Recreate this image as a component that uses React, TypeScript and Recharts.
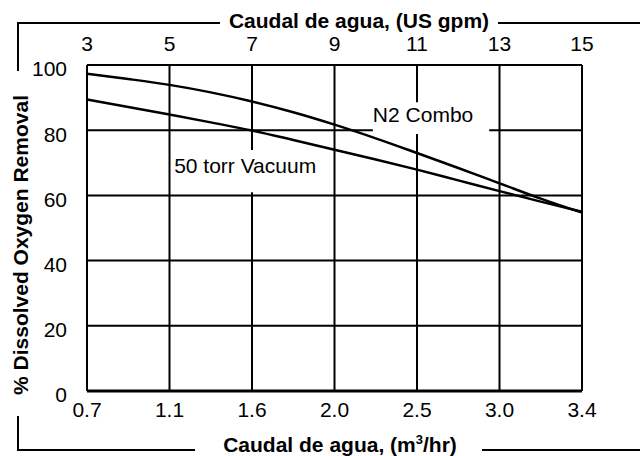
import { LineChart, Line, XAxis, YAxis, CartesianGrid, ReferenceArea } from 'recharts'

// flow in US gpm (top axis) and the matching m3/hr labels (bottom axis)
const gpm = [3, 4, 5, 6, 7, 8, 9, 10, 11, 12, 13, 14, 15]
const gpmTicks = [3, 5, 7, 9, 11, 13, 15]
const m3Labels = ['0.7', '1.1', '1.6', '2.0', '2.5', '3.0', '3.4']
const yTicks = [0, 20, 40, 60, 80, 100]

// % dissolved oxygen removal
const n2Combo = [97.3, 95.7, 93.9, 91.6, 88.8, 85.5, 81.7, 77.5, 73.0, 68.4, 63.7, 59.0, 54.7]
const vacuum50 = [89.4, 87.1, 84.8, 82.4, 79.9, 77.0, 74.0, 71.0, 67.9, 64.6, 61.3, 58.1, 55.0]

const data = gpm.map((g, i) => ({ gpm: g, n2: n2Combo[i], vac: vacuum50[i] }))

const FONT = '"Liberation Sans", Arial, sans-serif'

function boxLabel(text: string, dx: number, dy: number) {
  return (props: any) => {
    const vb = props.viewBox || {}
    return (
      <text x={vb.x + dx} y={vb.y + dy} fontSize={21} fill="#000" fontFamily={FONT}>
        {text}
      </text>
    )
  }
}

export default function App() {
  return (
    <div style={{ position: 'absolute', left: 0, top: 0, width: 640, height: 456, background: '#fff', fontFamily: FONT }}>
      <LineChart
        width={640}
        height={456}
        data={data}
        margin={{ top: 40, right: 58, bottom: 40, left: 20 }}
      >
        <CartesianGrid xAxisId="top" stroke="#000" strokeWidth={2} />
        <XAxis
          xAxisId="top"
          orientation="top"
          type="number"
          dataKey="gpm"
          domain={[3, 15]}
          ticks={gpmTicks}
          height={25}
          tickLine={false}
          tickSize={0}
          tickMargin={14}
          axisLine={{ stroke: '#000', strokeWidth: 2 }}
          tick={{ fill: '#000', fontSize: 21, fontFamily: FONT }}
        />
        <XAxis
          xAxisId="bottom"
          orientation="bottom"
          type="number"
          dataKey="gpm"
          domain={[3, 15]}
          ticks={gpmTicks}
          height={25}
          tickLine={false}
          tickSize={0}
          tickMargin={11}
          tickFormatter={(v) => m3Labels[gpmTicks.indexOf(v)] ?? ''}
          axisLine={{ stroke: '#000', strokeWidth: 3 }}
          tick={{ fill: '#000', fontSize: 21, fontFamily: FONT }}
        />
        <YAxis
          type="number"
          domain={[0, 100]}
          ticks={yTicks}
          width={67}
          tickLine={false}
          tickSize={0}
          tickMargin={20}
          axisLine={{ stroke: '#000', strokeWidth: 2 }}
          tick={{ fill: '#000', fontSize: 21, fontFamily: FONT, dy: 4 }}
        />
        <ReferenceArea
          xAxisId="top"
          x1={9.93}
          x2={12.75}
          y1={78.8}
          y2={88.6}
          fill="#fff"
          fillOpacity={1}
          stroke="none"
          ifOverflow="visible"
          label={boxLabel('N2 Combo', 0, 20)}
        />
        <ReferenceArea
          xAxisId="top"
          x1={5.04}
          x2={8.9}
          y1={61}
          y2={73.9}
          fill="#fff"
          fillOpacity={1}
          stroke="none"
          ifOverflow="visible"
          label={boxLabel('50 torr Vacuum', 3, 23)}
        />
        <Line
          xAxisId="top"
          type="monotone"
          dataKey="n2"
          stroke="#000"
          strokeWidth={2.5}
          dot={false}
          isAnimationActive={false}
        />
        <Line
          xAxisId="top"
          type="monotone"
          dataKey="vac"
          stroke="#000"
          strokeWidth={2.5}
          dot={false}
          isAnimationActive={false}
        />
      </LineChart>
      <svg
        width={640}
        height={456}
        style={{ position: 'absolute', left: 0, top: 0, pointerEvents: 'none' }}
      >
        <g stroke="#000" strokeWidth={2} fill="none">
          <polyline points="18,71 18,23 220,23" />
          <line x1={498} y1={23} x2={640} y2={23} />
          <polyline points="18,416 18,450 195,450" />
          <line x1={482} y1={450} x2={640} y2={450} />
        </g>
        <text x={359} y={28} textAnchor="middle" fontSize={21} fontWeight="bold" fontFamily={FONT} fill="#000">
          Caudal de agua, (US gpm)
        </text>
        <text x={340} y={452} textAnchor="middle" fontSize={21} fontWeight="bold" fontFamily={FONT} fill="#000">
          Caudal de agua, (m<tspan dy={-8} fontSize={13}>3</tspan><tspan dy={8}>/hr)</tspan>
        </text>
        <text
          x={20}
          y={245}
          transform="rotate(-90 20 245)"
          textAnchor="middle"
          dominantBaseline="central"
          fontSize={21}
          fontWeight="bold"
          fontFamily={FONT}
          fill="#000"
        >
          % Dissolved Oxygen Removal
        </text>
      </svg>
    </div>
  )
}
